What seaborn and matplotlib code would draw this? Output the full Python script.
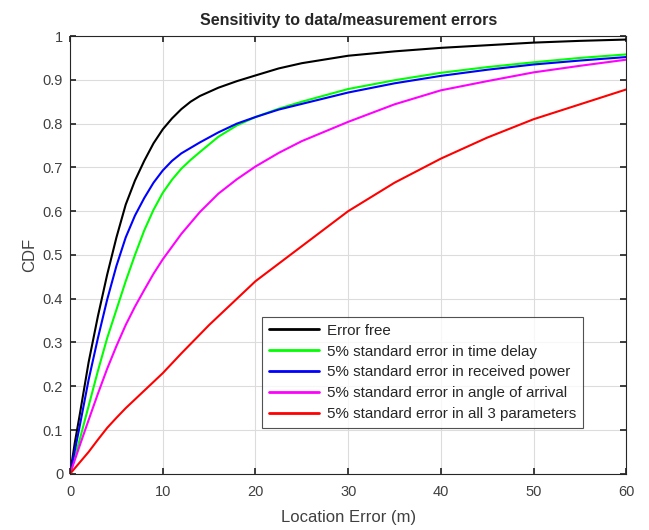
import numpy as np
import pandas as pd
import seaborn as sns
import matplotlib
matplotlib.use('Agg')
import matplotlib.pyplot as plt

# values
err_free_x = [0, 0.5, 1, 2, 3, 4, 5, 6, 7, 8, 9, 10, 11, 12, 13, 14, 16, 18, 20, 22.5, 25, 30, 35, 40, 45, 50, 55, 60]
err_free_y = [0, 0.07, 0.13, 0.255, 0.36, 0.455, 0.54, 0.615, 0.67, 0.715, 0.755, 0.787, 0.812, 0.833, 0.85, 0.863, 0.882, 0.897, 0.91, 0.926, 0.938, 0.955, 0.965, 0.973, 0.979, 0.985, 0.989, 0.992]

delay_x = [0, 1, 2, 3, 4, 5, 6, 7, 8, 9, 10, 11, 12, 13, 14, 16, 18, 20, 22.5, 25, 30, 35, 40, 45, 50, 55, 60]
delay_y = [0, 0.075, 0.155, 0.235, 0.31, 0.375, 0.44, 0.5, 0.556, 0.603, 0.642, 0.672, 0.697, 0.717, 0.735, 0.77, 0.796, 0.815, 0.834, 0.85, 0.879, 0.899, 0.916, 0.929, 0.94, 0.95, 0.958]

power_x = [0, 1, 2, 3, 4, 5, 6, 7, 8, 9, 10, 11, 12, 14, 16, 18, 20, 22.5, 25, 30, 35, 40, 45, 50, 55, 60]
power_y = [0, 0.105, 0.215, 0.31, 0.398, 0.475, 0.54, 0.59, 0.63, 0.665, 0.693, 0.715, 0.732, 0.757, 0.78, 0.8, 0.815, 0.832, 0.845, 0.871, 0.892, 0.909, 0.923, 0.935, 0.944, 0.952]

aoa_x = [0, 1, 2, 3, 4, 5, 6, 7, 8, 9, 10, 12, 14, 16, 18, 20, 22.5, 25, 30, 35, 40, 45, 50, 55, 60]
aoa_y = [0, 0.062, 0.123, 0.183, 0.24, 0.292, 0.34, 0.382, 0.42, 0.457, 0.49, 0.548, 0.598, 0.64, 0.673, 0.702, 0.733, 0.76, 0.804, 0.844, 0.876, 0.897, 0.917, 0.932, 0.946]

all3_x = [0, 1, 2, 3, 4, 5, 6, 8, 10, 12, 15, 20, 25, 30, 35, 40, 45, 50, 55, 60]
all3_y = [0, 0.025, 0.05, 0.078, 0.105, 0.128, 0.15, 0.19, 0.23, 0.275, 0.34, 0.44, 0.52, 0.6, 0.665, 0.72, 0.768, 0.81, 0.844, 0.878]

labels = ['Error free',
          '5% standard error in time delay',
          '5% standard error in received power',
          '5% standard error in angle of arrival',
          '5% standard error in all 3 parameters']
colors = ['#000000', '#00ff00', '#0000ff', '#ff00ff', '#ff0000']

series = [(err_free_x, err_free_y), (delay_x, delay_y), (power_x, power_y),
          (aoa_x, aoa_y), (all3_x, all3_y)]
frames = []
for lab, (xs, ys) in zip(labels, series):
    frames.append(pd.DataFrame({'x': xs, 'y': ys, 'case': lab}))
df = pd.concat(frames, ignore_index=True)

sns.set_theme(style='whitegrid')
plt.rcParams['font.family'] = ['Liberation Sans', 'DejaVu Sans']

fig = plt.figure(figsize=(6.49, 5.30), dpi=100)
ax = fig.add_axes([0.108, 0.106, 0.857, 0.826])

sns.lineplot(data=df, x='x', y='y', hue='case', palette=colors, hue_order=labels,
             estimator=None, sort=False, linewidth=1.5, ax=ax)

ax.set_xlim(0, 60)
ax.set_ylim(0, 1)
ax.set_xticks(np.arange(0, 61, 10))
ax.set_yticks(np.arange(0, 1.01, 0.1))
ax.set_yticklabels(['0', '0.1', '0.2', '0.3', '0.4', '0.5', '0.6', '0.7', '0.8', '0.9', '1'])
ax.grid(True, color='#dcdcdc', linewidth=0.8)
for s in ax.spines.values():
    s.set_color('#262626')
    s.set_linewidth(0.8)
ax.tick_params(direction='in', length=4, top=True, right=True, bottom=True, left=True,
               colors='#262626', labelcolor='#404040', labelsize=10.5, pad=5)
ax.tick_params(axis='x', pad=8)

ax.set_xlabel('Location Error (m)', fontsize=12, color='#404040', labelpad=8)
ax.set_ylabel('CDF', fontsize=12, color='#404040')
ax.set_title('Sensitivity to data/measurement errors', fontsize=11.5, fontweight='bold', pad=8)

handles, _ = ax.get_legend_handles_labels()
leg = ax.legend(handles, labels, loc='lower left', bbox_to_anchor=(0.345, 0.105),
                borderaxespad=0, fontsize=10.9, frameon=True, fancybox=False,
                handlelength=3.3, handletextpad=0.55, labelspacing=0.45, borderpad=0.45)
leg.get_frame().set_edgecolor('#262626')
leg.get_frame().set_linewidth(0.8)
for line in leg.get_lines():
    line.set_linewidth(2)

fig.savefig('out.png', dpi=100)
